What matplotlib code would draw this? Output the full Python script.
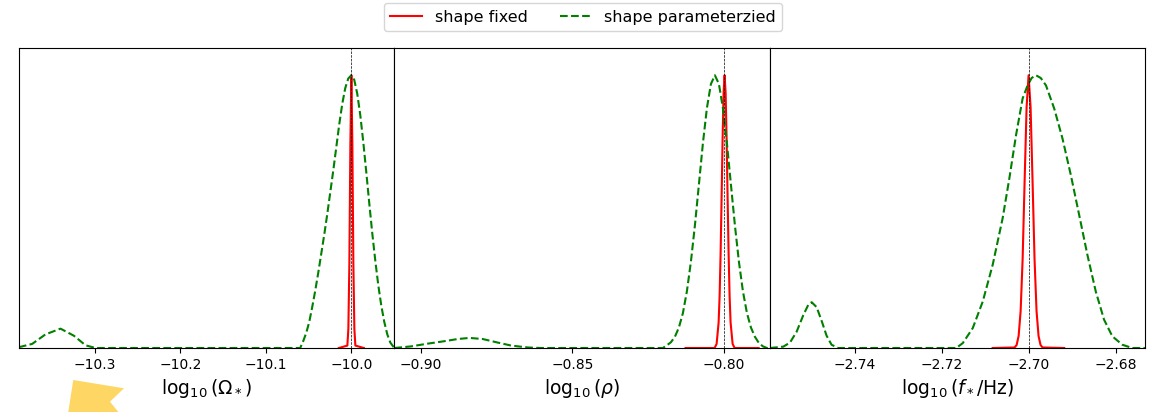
import matplotlib.pyplot as plt
from matplotlib.patches import Polygon

# panel 1: log10(Omega_*)
omega_fixed_x = [-10.01454, -10.00457, -10.00340, -10.00223, -10.00106, -9.99988,
                 -9.99871, -9.99754, -9.99637, -9.99519, -9.98523]
omega_fixed_y = [0.0, 0.009, 0.07, 0.306, 0.744, 1.0, 0.744, 0.306, 0.07, 0.009, 0.0]
omega_param_x = [-10.3892, -10.3736, -10.3580, -10.3404, -10.3247, -10.3111, -10.2993,
                 -10.05979, -10.05627, -10.05275, -10.04924, -10.04572, -10.04220,
                 -10.03869, -10.03517, -10.03165, -10.02814, -10.02462, -10.02110,
                 -10.01758, -10.01407, -10.01055, -10.00703, -10.00352, -10.0,
                 -9.99648, -9.99297, -9.98945, -9.98593, -9.98242, -9.97890, -9.97538,
                 -9.97186, -9.96835, -9.96483, -9.96131, -9.95780, -9.95428, -9.95076,
                 -9.9496]
omega_param_y = [0.003, 0.015, 0.05, 0.071, 0.045, 0.01, 0.0,
                 0.0, 0.025, 0.055, 0.095, 0.15, 0.21,
                 0.275, 0.345, 0.415, 0.49, 0.57, 0.65,
                 0.735, 0.82, 0.895, 0.953, 0.988, 1.0,
                 0.983, 0.932, 0.854, 0.755, 0.645, 0.53, 0.42,
                 0.32, 0.23, 0.155, 0.095, 0.05, 0.02, 0.005,
                 0.0]

# panel 2: log10(rho)
rho_fixed_x = [-0.81266, -0.80307, -0.80241, -0.80175, -0.80142, -0.80109, -0.80076,
               -0.80043, -0.80010, -0.79977, -0.79944, -0.79911, -0.79878, -0.79845,
               -0.79812, -0.79779, -0.79712, -0.79646, -0.78853]
rho_fixed_y = [0.0, 0.0, 0.015, 0.093, 0.19, 0.347, 0.552, 0.768, 0.936, 1.0,
               0.936, 0.768, 0.552, 0.347, 0.19, 0.093, 0.015, 0.0, 0.0]
rho_param_x = [-0.90883, -0.90330, -0.89782, -0.89230, -0.88790, -0.88404, -0.87964,
               -0.87469, -0.87026, -0.86477, -0.86034,
               -0.82016, -0.81883, -0.81751, -0.81619, -0.81487, -0.81354, -0.81222,
               -0.81090, -0.80958, -0.80826, -0.80694, -0.80561, -0.80429, -0.80297,
               -0.80165, -0.80033, -0.79900, -0.79768, -0.79636, -0.79504, -0.79372,
               -0.79239, -0.79107, -0.78975, -0.78843, -0.78711, -0.78578, -0.78490]
rho_param_y = [0.0, 0.006, 0.016, 0.025, 0.033, 0.037, 0.033,
               0.02, 0.009, 0.002, 0.0,
               0.0, 0.01, 0.021, 0.041, 0.075, 0.128, 0.208,
               0.316, 0.449, 0.599, 0.75, 0.88, 0.968, 1.0,
               0.968, 0.88, 0.75, 0.599, 0.449, 0.316, 0.208,
               0.128, 0.075, 0.041, 0.018, 0.006, 0.0, 0.0]

# panel 3: log10(f_*/Hz)
freq_fixed_x = [-2.70825, -2.70321, -2.70275, -2.70229, -2.70183, -2.70137, -2.70092,
                -2.70046, -2.70000, -2.69954, -2.69908, -2.69863, -2.69817, -2.69771,
                -2.69725, -2.69679, -2.69182]
freq_fixed_y = [0.0, 0.002, 0.011, 0.044, 0.135, 0.325, 0.607, 0.882, 1.0,
                0.882, 0.607, 0.325, 0.135, 0.044, 0.011, 0.002, 0.0]
freq_param_x = [-2.75940, -2.75636, -2.75482, -2.75329, -2.75178, -2.75063, -2.74985,
                -2.74871, -2.74756, -2.74641, -2.74527, -2.74376,
                -2.71663, -2.71512, -2.71283, -2.71054, -2.70825, -2.70596, -2.70442,
                -2.70289, -2.70137, -2.70023, -2.69930, -2.69830, -2.69720, -2.69601,
                -2.69411, -2.69221, -2.69029, -2.68838, -2.68648, -2.68456, -2.68266,
                -2.68076, -2.67846, -2.67617, -2.67326]
freq_param_y = [0.0, 0.005, 0.02, 0.06, 0.12, 0.158, 0.168,
                0.15, 0.1, 0.045, 0.012, 0.0,
                0.0, 0.018, 0.073, 0.17, 0.305, 0.476, 0.622,
                0.78, 0.915, 0.963, 0.99, 1.0, 0.99, 0.963,
                0.878, 0.768, 0.634, 0.488, 0.341, 0.207, 0.104,
                0.043, 0.012, 0.0, 0.0]

true_values = [-10.0, -0.80, -2.70]
xlabels = [r'$\log_{10}(\Omega_*)$', r'$\log_{10}(\rho)$', r'$\log_{10}(f_*/\mathrm{Hz})$']
xlims = [(-10.389, -9.9496), (-0.90883, -0.7849), (-2.7595, -2.67326)]
xticks = [[-10.3, -10.2, -10.1, -10.0], [-0.90, -0.85, -0.80], [-2.74, -2.72, -2.70, -2.68]]
ticklabels = [['−10.3', '−10.2', '−10.1', '−10.0'], ['−0.90', '−0.85', '−0.80'],
              ['−2.74', '−2.72', '−2.70', '−2.68']]

fixed = [(omega_fixed_x, omega_fixed_y), (rho_fixed_x, rho_fixed_y), (freq_fixed_x, freq_fixed_y)]
param = [(omega_param_x, omega_param_y), (rho_param_x, rho_param_y), (freq_param_x, freq_param_y)]

fig, axes = plt.subplots(1, 3, figsize=(11.65, 4.12), dpi=100)
fig.subplots_adjust(left=0.0163, right=0.9828, bottom=0.1553, top=0.8835, wspace=0)

for i, ax in enumerate(axes):
    l1, = ax.plot(fixed[i][0], fixed[i][1], color='red', lw=1.5, label='shape fixed')
    l2, = ax.plot(param[i][0], param[i][1], color='green', ls='--', lw=1.5,
                  label='shape parameterzied')
    ax.axvline(true_values[i], color='k', ls='--', lw=0.5)
    ax.set_xlim(xlims[i])
    ax.set_ylim(0, 1.1)
    ax.set_yticks([])
    ax.set_xticks(xticks[i])
    ax.set_xticklabels(ticklabels[i], fontsize=10)
    ax.set_xlabel(xlabels[i], fontsize=13.5)

fig.legend(handles=[l1, l2], loc='upper center', ncol=2, fontsize=11.5,
           bbox_to_anchor=(0.5005, 1.0), borderaxespad=0.2)

# yellow marker in the bottom-left corner
fig.patches.append(Polygon([(0.0629, 0.0777), (0.1064, 0.0575), (0.0944, 0.0250),
                            (0.1016, 0.0), (0.0586, 0.0)],
                           closed=True, transform=fig.transFigure, facecolor='#fdd663',
                           edgecolor='none'))

fig.savefig('out.png')
